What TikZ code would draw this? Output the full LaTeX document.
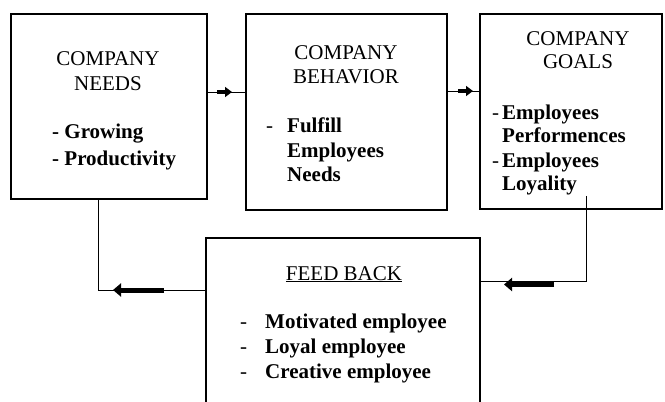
\documentclass[tikz,border=0pt]{standalone}
\usepackage{fontspec}
\setmainfont{Liberation Serif}
\usetikzlibrary{arrows.meta,calc}
\tikzset{
  box/.style={draw,line width=1.8pt,inner sep=0pt},
  link/.style={line width=0.8pt},
  fat/.style={line width=5pt,-{Triangle[length=8pt,width=13pt]}},
  slim/.style={line width=4.5pt,-{Triangle[length=7pt,width=10pt]}},
  lbl/.style={font=\fontsize{21}{24}\selectfont,inner sep=0pt,anchor=base},
  item/.style={lbl,font=\fontsize{21}{24}\selectfont\bfseries,anchor=base west},
  hyph/.style={lbl,anchor=base west},
}

\begin{document}
\begin{tikzpicture}[x=1pt,y=-1pt]
  \useasboundingbox (0,0) rectangle (665,402);
  \clip (0,0) rectangle (665,402);
  % ------------- boxes -------------
  \node[box,minimum width=196pt,minimum height=185pt] (needs) at (109,106.5) {};
  \node[box,minimum width=201pt,minimum height=196pt] (behav) at (346.5,112) {};
  \node[box,minimum width=182pt,minimum height=195pt] (goals) at (571,111.5) {};
  \node[box,minimum width=274pt,minimum height=202pt] (feed) at (343,339) {};

  % ------------- company needs -------------
  \node[lbl] (needsA) at (108,65) {COMPANY};
  \node[lbl] (needsB) at (108,90) {NEEDS};
  \node[item] (grow) at (52,138) {- Growing};
  \node[item] (prod) at (52,165) {- Productivity};

  % ------------- company behavior -------------
  \node[lbl] (behavA) at (346,59) {COMPANY};
  \node[lbl] (behavB) at (346,83) {BEHAVIOR};
  \node[hyph] (behavH) at (266,132) {-};
  \node[item] (fulf) at (287,132) {Fulfill};
  \node[item] (empl) at (287,157) {Employees};
  \node[item] (need) at (287,181) {Needs};

  % ------------- company goals -------------
  \node[lbl] (goalsA) at (578,45) {COMPANY};
  \node[lbl] (goalsB) at (578,68) {GOALS};
  \node[hyph] (goalsH1) at (492,119) {-};
  \node[item] (perfA) at (502,119) {Employees};
  \node[item] (perfB) at (502,142) {Performences};
  \node[hyph] (goalsH2) at (492,167) {-};
  \node[item] (loyA) at (502,167) {Employees};
  \node[item] (loyB) at (502,190) {Loyality};

  % ------------- feed back -------------
  \node[lbl] (fbT) at (344,280) {\underline{FEED BACK}};
  \foreach \y/\txt [count=\i] in {328/Motivated employee,353/Loyal employee,378/Creative employee}{
    \node[hyph] (fbH\i) at (240,\y) {-};
    \node[item] (fb\i) at (265,\y) {\txt};
  }

  % ------------- connectors -------------
  \draw[link] (needs.east |- 0,92) -- (behav.west |- 0,92);
  \draw[slim] (217,92) -- (232,92);
  \draw[link] (behav.east |- 0,91) -- (goals.west |- 0,91);
  \draw[slim] (458,91) -- (473,91);
  % loop back from goals through feed back to needs
  \draw[link] ($(goals.south -| 586,0)+(0,-14)$) |- (feed.east |- 0,281);
  \draw[fat] (554,284.5) -- (504,284.5);
  \draw[link] (needs.south -| 98,0) |- (feed.west |- 0,290);
  \draw[fat] (164,290) -- (113,290);
\end{tikzpicture}
\end{document}
